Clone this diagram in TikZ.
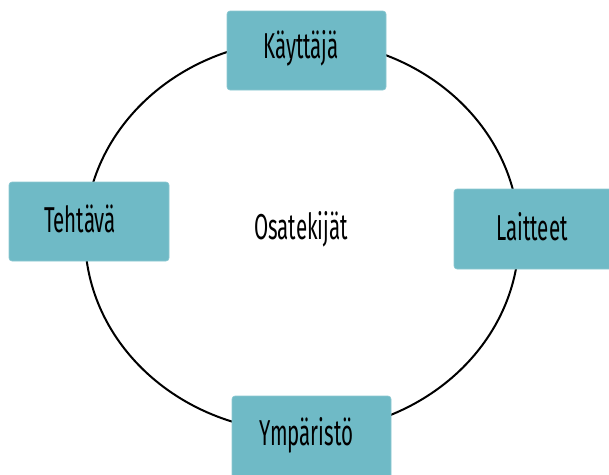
\documentclass[tikz,border=0pt]{standalone}
\usepackage{fontspec}
\setmainfont[FakeStretch=0.57]{Fira Sans}
\definecolor{boxcol}{HTML}{6FBAC6}
\begin{document}
\begin{tikzpicture}[x=1pt,y=-1pt,
  box/.style={fill=boxcol,draw=boxcol!80!white,line width=0.6pt,rounded corners=3pt,inner sep=0pt},
  lbl/.style={anchor=base,inner sep=0pt,font=\fontsize{36}{40}\selectfont}]
\useasboundingbox (0,0) rectangle (609,474);
\draw[line width=2pt] (302,236) ellipse [x radius=217, y radius=196];
\path[box] (227,11) rectangle (386,90) node[midway] (b1) {};
\path[box] (9,182) rectangle (169,261) node[midway] (b2) {};
\path[box] (454,189) rectangle (614,269) node[midway] (b3) {};
\path[box] (232,396) rectangle (391,478) node[midway] (b4) {};
\node[lbl] (t1) at (301,58) {Käyttäjä};
\node[lbl] (t2) at (80,232) {Tehtävä};
\node[lbl] (t3) at (532,240) {Laitteet};
\node[lbl] (t4) at (306.5,445) {Ympäristö};
\node[lbl] (t5) at (301,239) {Osatekijät};
\end{tikzpicture}
\end{document}
